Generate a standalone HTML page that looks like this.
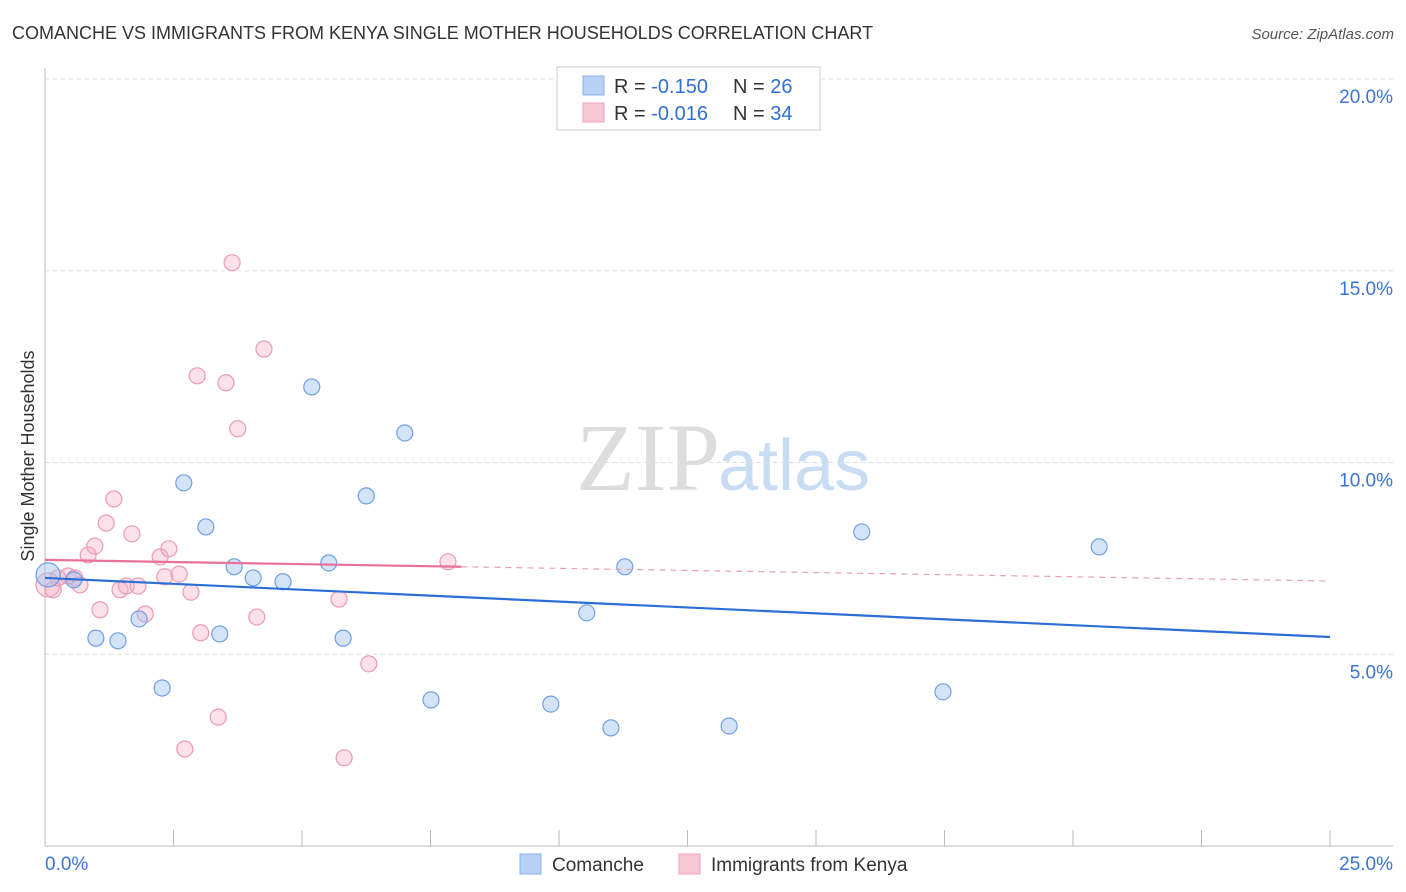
<!DOCTYPE html>
<html><head><meta charset="utf-8"><style>
body{margin:0;background:#fff;font-family:"Liberation Sans",sans-serif}
svg{display:block}
</style></head><body>
<svg id="c" width="1406" height="892">
<text x="12" y="39" font-size="18" fill="#333">COMANCHE VS IMMIGRANTS FROM KENYA SINGLE MOTHER HOUSEHOLDS CORRELATION CHART</text>
<text x="1394" y="39" font-size="15" fill="#555" font-style="italic" text-anchor="end">Source: ZipAtlas.com</text>
<text x="720" y="490" font-size="96" fill="#ddd" text-anchor="end" font-family="Liberation Serif,serif">ZIP</text>
<text x="718" y="490" font-size="72" fill="#c8dcf3">atlas</text>
<text transform="translate(34,456) rotate(-90)" font-size="18" fill="#333" text-anchor="middle">Single Mother Households</text>
<g id="grid"></g><g id="marks"></g>
<g>
<rect x="557" y="67" width="263" height="63" fill="#fff" stroke="#ccc"/>
<rect x="583" y="76" width="21" height="19" fill="#b7d0f3" stroke="#8ab0e8"/>
<rect x="583" y="103" width="21" height="19" fill="#f9c6d6" stroke="#efa3bd"/>
<text x="614" y="93" font-size="20" fill="#333">R = <tspan fill="#2f6fd6">-0.150</tspan><tspan x="733">N = </tspan><tspan fill="#2f6fd6">26</tspan></text>
<text x="614" y="120" font-size="20" fill="#333">R = <tspan fill="#2f6fd6">-0.016</tspan><tspan x="733">N = </tspan><tspan fill="#2f6fd6">34</tspan></text>
</g>
<g>
<rect x="520" y="854" width="21" height="20" fill="#b7d0f3" stroke="#8ab0e8"/>
<text x="552" y="871" font-size="19" fill="#333">Comanche</text>
<rect x="679" y="854" width="21" height="20" fill="#f9c6d6" stroke="#efa3bd"/>
<text x="711" y="871" font-size="19" fill="#333">Immigrants from Kenya</text>
</g>
</svg>
<script>
const blueX=[0.06,0.56,0.99,1.42,1.83,2.28,2.70,3.13,3.40,3.68,4.05,4.63,5.19,5.52,5.80,6.25,7.00,7.51,9.84,10.54,11.01,11.28,13.31,15.89,17.47,20.51];
const blueY=[7.07,6.94,5.42,5.35,5.92,4.12,9.47,8.32,5.53,7.28,6.99,6.89,11.97,7.38,5.42,9.13,10.77,3.81,3.70,6.08,3.08,7.28,3.13,8.19,4.02,7.80];
const pinkX=[0.06,0.16,0.25,0.45,0.58,0.68,0.84,0.97,1.07,1.19,1.34,1.46,1.58,1.69,1.81,1.95,2.24,2.33,2.41,2.61,2.72,2.84,2.96,3.03,3.37,3.52,3.64,3.75,4.12,4.26,5.72,5.82,6.30,7.84];
const pinkY=[6.81,6.68,6.99,7.04,6.99,6.81,7.59,7.82,6.16,8.42,9.05,6.68,6.78,8.14,6.78,6.05,7.54,7.02,7.75,7.09,2.53,6.62,12.26,5.56,3.36,12.08,15.21,10.88,5.97,12.96,6.44,2.30,4.75,7.41];
const blueTrend=[6.99,5.45];
const pinkTrend=[7.46,6.91];
const pinkSolidEnd=8.1;
const yTicks=[5,10,15,20];
const yTickLabels=["5.0%","10.0%","15.0%","20.0%"];
const xTickLabels=["0.0%","25.0%"];
const xMax=25;
const NS="http://www.w3.org/2000/svg";
const sx=v=>45+v/xMax*1285, sy=v=>846-v/20*767;
function mk(p,t,a){const e=document.createElementNS(NS,t);for(const k in a)e.setAttribute(k,a[k]);p.appendChild(e);return e;}
const g=document.getElementById('grid'), m=document.getElementById('marks');
yTicks.forEach((t,i)=>{
 const l=mk(g,'line',{x1:45,x2:1393,y1:sy(t),y2:sy(t),stroke:'#ddd','stroke-dasharray':'4,4'});
 
 
 const tx=mk(g,'text',{x:1393,y:sy(t)+24,'font-size':19,fill:'#3a74d8','text-anchor':'end'});
 tx.textContent=yTickLabels[i];
 
 
});
const ax=mk(g,'line',{x1:45,x2:45,y1:68,y2:846,stroke:'#bbb'});


const bx=mk(g,'line',{x1:45,x2:1393,y1:846,y2:846,stroke:'#bbb'});


for(let i=0;i<=10;i++){
 const t=mk(g,'line',{x1:sx(i*2.5),x2:sx(i*2.5),y1:830,y2:846,stroke:'#bbb'});
 
 
}
[[0,'start'],[xMax,'end']].forEach((d,i)=>{
 const tx=mk(g,'text',{x:i?1393:45,y:870,'font-size':19,fill:'#3a74d8','text-anchor':d[1]});
 tx.textContent=xTickLabels[i];
 
 
});
function dots(X,Y,fill,stroke,name){X.forEach((x,i)=>{
 const r=i===0?12:8;
 const c=mk(m,'circle',{cx:sx(x),cy:sy(Y[i]),r:r,fill:fill,stroke:stroke,'stroke-width':1.2});
 
 
});}
dots(pinkX,pinkY,'rgba(245,170,195,0.35)','#eb9ab5','kenya-point');
dots(blueX,blueY,'rgba(160,195,240,0.45)','#6f9fe3','comanche-point');
const pt=v=>pinkTrend[0]+(pinkTrend[1]-pinkTrend[0])*v/xMax;
const bl=mk(m,'line',{x1:sx(0),y1:sy(blueTrend[0]),x2:sx(xMax),y2:sy(blueTrend[1]),stroke:'#2a6fd6','stroke-width':2.2});


const pl=mk(m,'line',{x1:sx(0),y1:sy(pt(0)),x2:sx(pinkSolidEnd),y2:sy(pt(pinkSolidEnd)),stroke:'#e8719a','stroke-width':2.2});


const pd=mk(m,'line',{x1:sx(pinkSolidEnd),y1:sy(pt(pinkSolidEnd)),x2:sx(xMax),y2:sy(pt(xMax)),stroke:'#e8a0b8','stroke-width':1.2,'stroke-dasharray':'6,5'});


</script>
</body></html>
